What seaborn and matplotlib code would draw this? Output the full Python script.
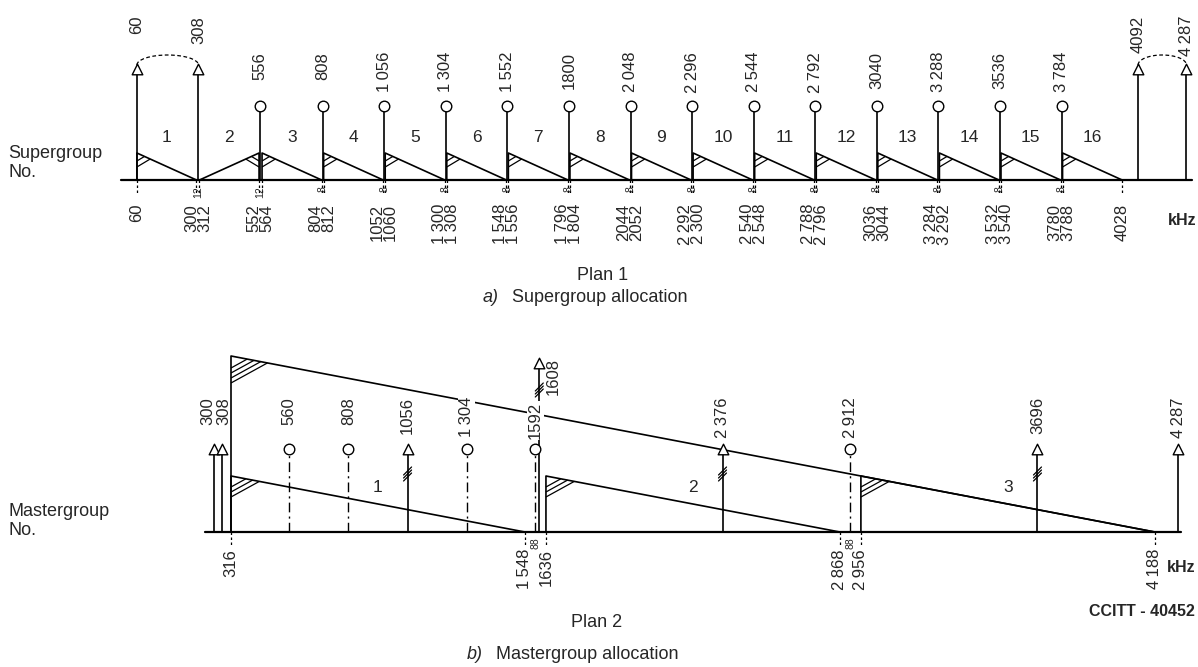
import numpy as np
import pandas as pd
import seaborn as sns
import matplotlib.pyplot as plt
from matplotlib.patches import Arc

# ---------------- Plan 1 : supergroup allocation (kHz)
sg_number = [1, 2, 3, 4, 5, 6, 7, 8, 9, 10, 11, 12, 13, 14, 15, 16]
sg_low = [60, 312, 564, 812, 1060, 1308, 1556, 1804, 2052, 2300, 2548, 2796, 3044, 3292, 3540, 3788]
sg_high = [300, 552, 804, 1052, 1300, 1548, 1796, 2044, 2292, 2540, 2788, 3036, 3284, 3532, 3780, 4028]
sg_erect = [False, True, False, False, False, False, False, False,
            False, False, False, False, False, False, False, False]
sg_low_labels = ["60", "312", "564", "812", "1060", "1 308", "1 556", "1 804",
                 "2052", "2 300", "2 548", "2 796", "3044", "3 292", "3 540", "3788"]
sg_high_labels = ["300", "552", "804", "1052", "1 300", "1 548", "1 796", "2044",
                  "2 292", "2 540", "2 788", "3036", "3 284", "3 532", "3780", "4028"]
sg_carriers = [556, 808, 1056, 1304, 1552, 1800, 2048, 2296, 2544, 2792, 3040, 3288, 3536, 3784]
sg_carrier_labels = ["556", "808", "1 056", "1 304", "1 552", "1800", "2 048", "2 296",
                     "2 544", "2 792", "3040", "3 288", "3536", "3 784"]
sg_pilots = [60, 308, 4092, 4287]
sg_pilot_labels = ["60", "308", "4092", "4 287"]

# ---------------- Plan 2 : mastergroup allocation (kHz)
mg_number = [1, 2, 3]
mg_low = [316, 1636, 2956]
mg_high = [1548, 2868, 4188]
mg_low_labels = ["316", "1636", "2 956"]
mg_high_labels = ["1 548", "2 868", "4 188"]
mg_carriers = [560, 808, 1304, 1592, 2912]
mg_carrier_labels = ["560", "808", "1 304", "1592", "2 912"]
mg_pilots = [300, 308, 1056, 1608, 2376, 3696, 4287]
mg_pilot_labels = ["300", "308", "1056", "1608", "2 376", "3696", "4 287"]
mg_slashed = [1056, 1608, 2376, 3696]

# ---------------- layout (pixels, y measured from the top)
W, H, DPI = 1198, 667, 100
A1, B1 = 122, 0.2483         # panel a: px = A1 + B1 * kHz
A2, B2 = 155.6, 0.2386       # panel b
BASE1, SG_SLOPE = 180, 27 / 240
BASE2, MG_SLOPE = 532, 176 / 3872
TIP1, CIRC1 = 64, 106
TIP2, CIRC2, TALL_TIP = 444, 449, 358
NUDGE2 = {300: -13, 308: -7}            # pilot arrows pushed apart for legibility
LABEL_NUDGE2 = {300: -6, 308: 2, 1608: 14}
SLASH_Y = {1608: 390}
LW = 1.2
FS = 12
WHITE_BOX = dict(facecolor="white", edgecolor="none", pad=0.6)


def thin(s):
    return s.replace(" ", "\u2009")


def triangles(lows, highs, erect, base, slope, names):
    rows = []
    for n, lo, hi, up in zip(names, lows, highs, erect):
        h = slope * (hi - lo)
        pts = [(lo, base), (hi, base - h), (hi, base)] if up else [(lo, base), (lo, base - h), (hi, base)]
        for k, (x, y) in enumerate(pts):
            rows.append({"band": n, "k": k, "x": x, "y": y})
    return pd.DataFrame(rows)


def hatch(ax, x0, y_top, s_tri, direction, depths, b, slope=0.6):
    for d in depths:
        t = d / (s_tri + slope)
        ax.plot([x0, x0 + direction * t / b], [y_top + d, y_top + d - slope * t],
                color="black", lw=0.9, solid_capstyle="butt")


def arrows(ax, xs, tip, base, b, lw=LW):
    xs = np.asarray(xs, dtype=float)
    ax.vlines(xs, base, tip + 5, color="black", lw=lw)
    sns.scatterplot(x=xs, y=np.full(len(xs), tip + 4.5), marker="^", s=58, color="white",
                    edgecolor="black", linewidth=1.0, zorder=5, ax=ax, legend=False)


sns.set_theme(style="white")
plt.rcParams["font.family"] = ["Liberation Sans", "DejaVu Sans"]

fig = plt.figure(figsize=(W / DPI, H / DPI), dpi=DPI)
fig.patch.set_facecolor("white")
ax1 = fig.add_axes([0, 0, 1, 1])
ax2 = fig.add_axes([0, 0, 1, 1])


def px(x, y):
    return x / W, 1 - y / H


# ================= panel a
tri1 = triangles(sg_low, sg_high, sg_erect, BASE1, SG_SLOPE, sg_number)
sns.lineplot(data=tri1, x="x", y="y", units="band", estimator=None, sort=False,
             color="black", lw=LW, ax=ax1, legend=False)
for lo, hi, up in zip(sg_low, sg_high, sg_erect):
    h = SG_SLOPE * (hi - lo)
    s_tri = h / ((hi - lo) * B1)
    if up:
        hatch(ax1, hi, BASE1 - h, s_tri, -1, [8, 14], B1)
    else:
        hatch(ax1, lo, BASE1 - h, s_tri, 1, [8, 14], B1)

ax1.plot([sg_low[0] - 16 / B1, sg_pilots[-1] + 6 / B1], [BASE1, BASE1], color="black", lw=1.6)
edges1 = sg_low + sg_high
ax1.vlines(edges1, BASE1, BASE1 + 13, color="black", lw=0.9, linestyles=(0, (2, 2)))

# carriers (circles)
ax1.vlines(sg_carriers, BASE1, CIRC1 + 5, color="black", lw=LW)
sns.scatterplot(x=sg_carriers, y=np.full(len(sg_carriers), CIRC1), marker="o", s=58,
                color="white", edgecolor="black", linewidth=1.0, zorder=5, ax=ax1, legend=False)
for x, s in zip(sg_carriers, sg_carrier_labels):
    ax1.text(x, 52, thin(s), rotation=90, ha="center", va="top", fontsize=FS)

# pilots (open arrows) joined by dashed arcs
arrows(ax1, sg_pilots, TIP1, BASE1, B1)
for x, s in zip(sg_pilots, sg_pilot_labels):
    ax1.text(x, 16, thin(s), rotation=90, ha="center", va="top", fontsize=FS)
for p0, p1 in [(sg_pilots[0], sg_pilots[1]), (sg_pilots[2], sg_pilots[3])]:
    ax1.add_patch(Arc(((p0 + p1) / 2, TIP1 + 1), p1 - p0, 20, theta1=180, theta2=360,
                      color="black", lw=0.9, ls=(0, (3, 2))))

# supergroup numbers
for n, lo, hi in zip(sg_number, sg_low, sg_high):
    ax1.text((lo + hi) / 2, 137, str(n), ha="center", va="center", fontsize=12.5)

# band edge labels and gap widths
half = 6.5 / B1
ax1.text(sg_low[0], 204, sg_low_labels[0], rotation=90, ha="center", va="top", fontsize=FS)
ax1.text(sg_high[-1], 204, sg_high_labels[-1], rotation=90, ha="center", va="top", fontsize=FS)
for i in range(len(sg_low) - 1):
    mid = (sg_high[i] + sg_low[i + 1]) / 2
    ax1.text(mid - half, 204, thin(sg_high_labels[i]), rotation=90, ha="center", va="top", fontsize=FS)
    ax1.text(mid + half, 204, thin(sg_low_labels[i + 1]), rotation=90, ha="center", va="top", fontsize=FS)
    ax1.text(mid, 186, str(sg_low[i + 1] - sg_high[i]), rotation=90, ha="center", va="top", fontsize=7.5)

# ================= panel b
big = triangles([mg_low[0]], [mg_high[-1]], [False], BASE2, MG_SLOPE, [0])
small = triangles(mg_low, mg_high, [False] * len(mg_low), BASE2, MG_SLOPE, mg_number)
tri2 = pd.concat([big, small], ignore_index=True)
sns.lineplot(data=tri2, x="x", y="y", units="band", estimator=None, sort=False,
             color="black", lw=LW, ax=ax2, legend=False)
h_big = MG_SLOPE * (mg_high[-1] - mg_low[0])
s2 = MG_SLOPE / B2
hatch(ax2, mg_low[0], BASE2 - h_big, s2, 1, [12, 17, 22, 27], B2, slope=0.55)
for lo, hi in zip(mg_low, mg_high):
    hatch(ax2, lo, BASE2 - MG_SLOPE * (hi - lo), s2, 1, [11, 16, 21], B2, slope=0.55)

first = mg_pilots[0] + NUDGE2.get(mg_pilots[0], 0) / B2
ax2.plot([first - 9 / B2, mg_pilots[-1] + 3 / B2], [BASE2, BASE2], color="black", lw=1.6)
edges2 = mg_low + mg_high
ax2.vlines(edges2, BASE2, BASE2 + 15, color="black", lw=0.9, linestyles=(0, (2, 2)))

# carriers: circles on dash-dot stems
ax2.vlines(mg_carriers, BASE2, CIRC2 + 5, color="black", lw=1.0, linestyles=(0, (7, 3, 1.5, 3)))
sns.scatterplot(x=mg_carriers, y=np.full(len(mg_carriers), CIRC2), marker="o", s=58,
                color="white", edgecolor="black", linewidth=1.0, zorder=5, ax=ax2, legend=False)
for x, s in zip(mg_carriers, mg_carrier_labels):
    top = 402 if x == 1592 else 397
    ax2.text(x, top, thin(s), rotation=90, ha="center", va="top", fontsize=FS,
             bbox=WHITE_BOX, zorder=6)

# pilots
draw_x = [x + NUDGE2.get(x, 0) / B2 for x in mg_pilots]
short = [dx for x, dx in zip(mg_pilots, draw_x) if x != 1608]
arrows(ax2, short, TIP2, BASE2, B2)
arrows(ax2, [1608], TALL_TIP, BASE2, B2)
for x, dx, s in zip(mg_pilots, draw_x, mg_pilot_labels):
    lx = dx + LABEL_NUDGE2.get(x, 0) / B2
    top = TALL_TIP if x == 1608 else 397
    ax2.text(lx, top, thin(s), rotation=90, ha="center", va="top", fontsize=FS, zorder=6)
for x in mg_slashed:
    yc = SLASH_Y.get(x, 474)
    for k in (-1, 0, 1):
        ax2.plot([x - 4 / B2, x + 4 / B2], [yc + 3 * k + 4, yc + 3 * k - 4], color="black", lw=0.9)

# mastergroup numbers
for n, lo, hi in zip(mg_number, mg_low, mg_high):
    ax2.text((lo + hi) / 2, 487, str(n), ha="center", va="center", fontsize=12.5)

# band edge labels and gaps
for x, s in zip(mg_low + mg_high, mg_low_labels + mg_high_labels):
    ax2.text(x, 549, thin(s), rotation=90, ha="center", va="top", fontsize=FS)
for i in range(len(mg_low) - 1):
    mid = (mg_high[i] + mg_low[i + 1]) / 2
    ax2.text(mid, 537, str(mg_low[i + 1] - mg_high[i]), rotation=90, ha="center", va="top", fontsize=7.5)

# ================= axes and captions
for ax, a, b in [(ax1, A1, B1), (ax2, A2, B2)]:
    ax.set_xlim((0 - a) / b, (W - a) / b)
    ax.set_ylim(H, 0)
    ax.set_axis_off()
    ax.patch.set_visible(False)

fig.text(*px(8, 158), "Supergroup", fontsize=13, va="baseline")
fig.text(*px(8, 177), "No.", fontsize=13, va="baseline")
fig.text(*px(8, 516), "Mastergroup", fontsize=13, va="baseline")
fig.text(*px(8, 535), "No.", fontsize=13, va="baseline")
fig.text(*px(1182, 221), "kHz", fontsize=11.5, weight="bold", ha="center", va="center")
fig.text(*px(1181, 567), "kHz", fontsize=11.5, weight="bold", ha="center", va="center")
fig.text(*px(603, 280), "Plan 1", fontsize=13, ha="center", va="baseline")
fig.text(*px(499, 302), "a)", fontsize=13, style="italic", ha="right", va="baseline")
fig.text(*px(512, 302), "Supergroup allocation", fontsize=13, ha="left", va="baseline")
fig.text(*px(597, 627), "Plan 2", fontsize=13, ha="center", va="baseline")
fig.text(*px(483, 659), "b)", fontsize=13, style="italic", ha="right", va="baseline")
fig.text(*px(496, 659), "Mastergroup allocation", fontsize=13, ha="left", va="baseline")
fig.text(*px(1195, 611), "CCITT - 40452", fontsize=11.5, weight="bold", ha="right", va="center")

fig.savefig("out.png", dpi=DPI, facecolor="white")
